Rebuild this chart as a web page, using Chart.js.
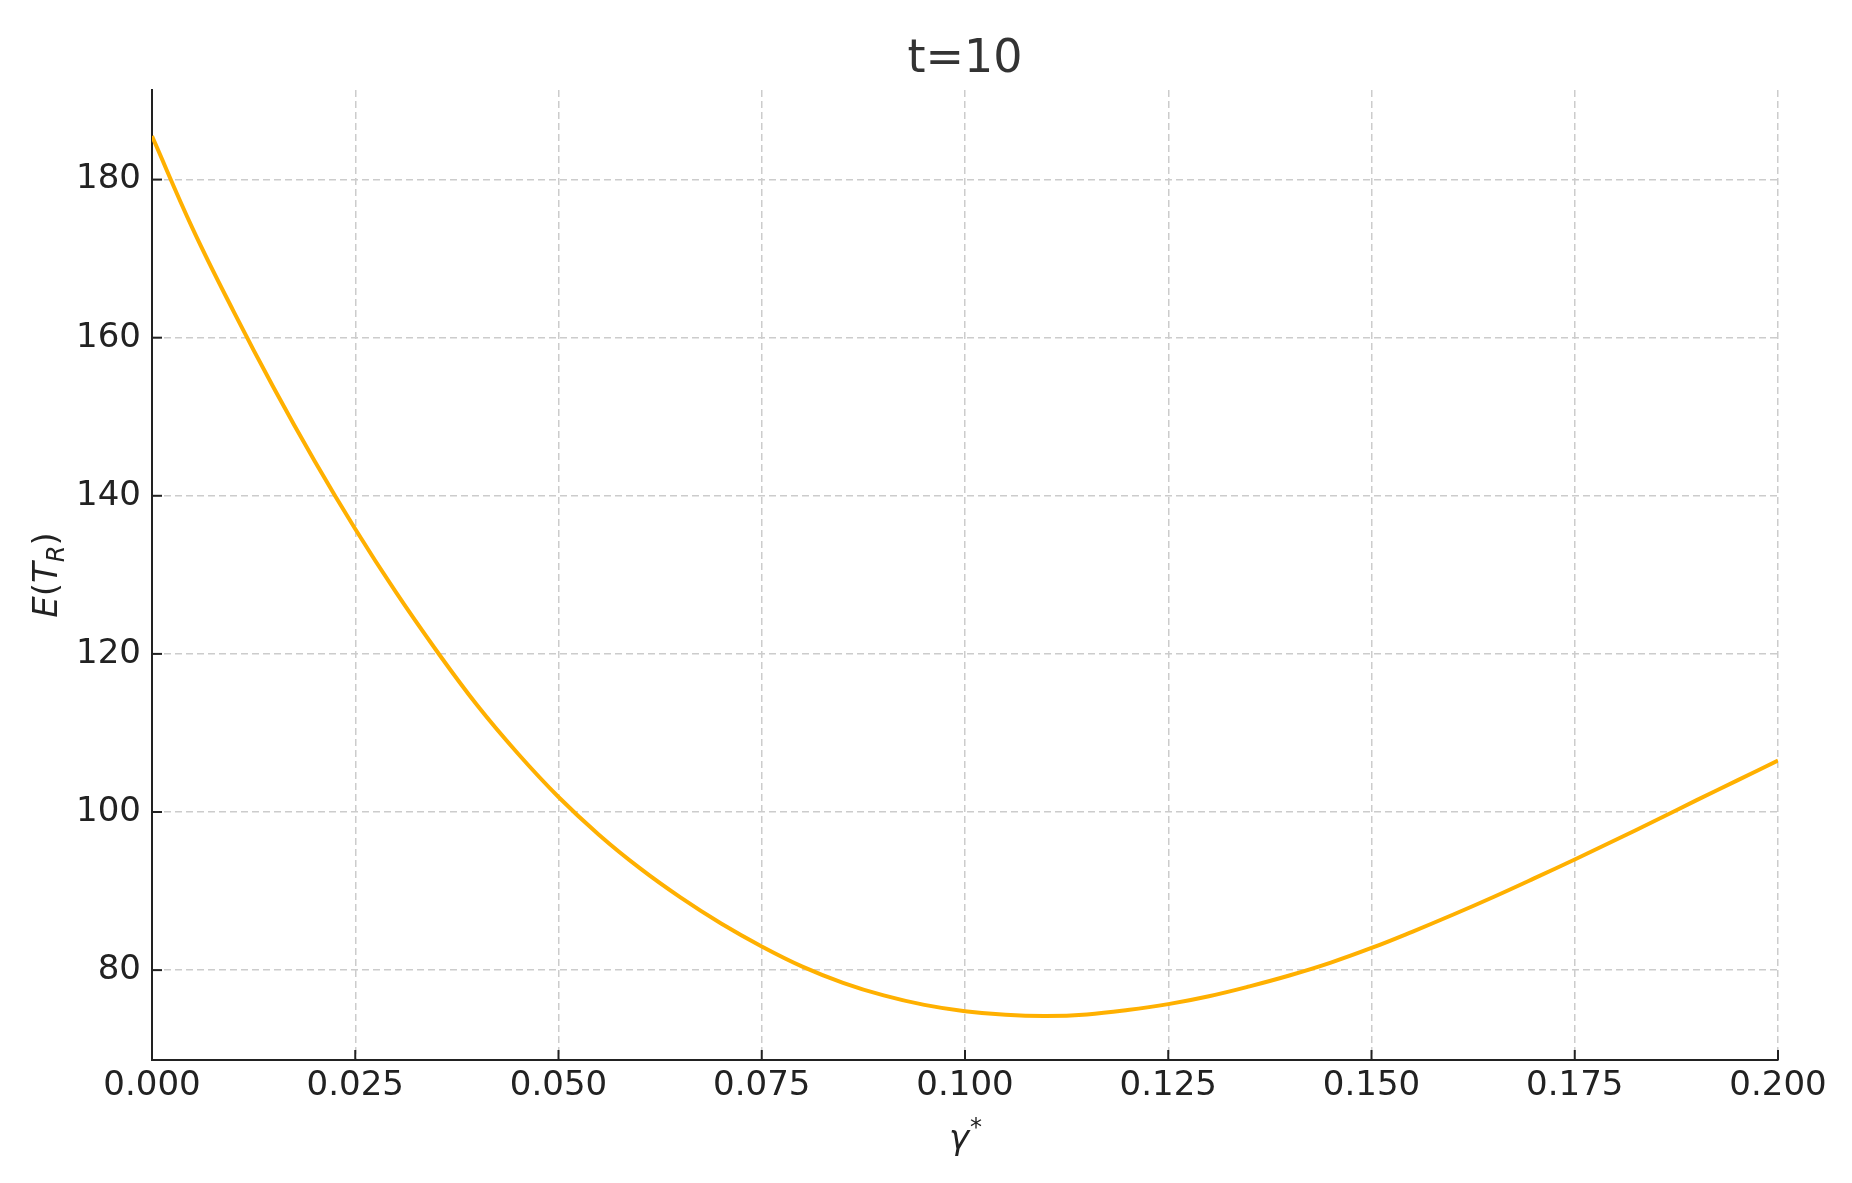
<!DOCTYPE html>
<html lang="en">
  <head>
    <meta charset="UTF-8" />
    <title>t=10</title>
    <script src="https://cdn.jsdelivr.net/npm/chart.js"></script>
    <style>
      body { margin: 0; background: #fff; }
      #grafico { display: block; }
    </style>
  </head>
  <body>
    <canvas id="grafico" width="1852" height="1183"></canvas>

    <script>
      // valores
      const gammaValues = [
        0.000, 0.005, 0.010, 0.015, 0.020, 0.025, 0.030, 0.035, 0.040, 0.045,
        0.050, 0.055, 0.060, 0.065, 0.070, 0.075, 0.080, 0.085, 0.090, 0.095,
        0.100, 0.105, 0.110, 0.115, 0.120, 0.125, 0.130, 0.135, 0.140, 0.145,
        0.150, 0.155, 0.160, 0.165, 0.170, 0.175, 0.180, 0.185, 0.190, 0.195,
        0.200
      ]
      const expectedTime = [
        185.5, 173.8, 163.4, 153.6, 144.4, 135.8, 127.8, 120.4, 113.5, 107.4,
        101.9, 97.1, 92.9, 89.2, 85.9, 83.0, 80.45, 78.4, 76.8, 75.6,
        74.8, 74.35, 74.2, 74.4, 74.95, 75.7, 76.7, 77.95, 79.35, 80.95,
        82.8, 84.85, 87.0, 89.25, 91.6, 94.0, 96.45, 98.95, 101.5, 104.0,
        106.5
      ]
      const xTicks = [0, 0.025, 0.05, 0.075, 0.1, 0.125, 0.15, 0.175, 0.2]
      const yTicks = [80, 100, 120, 140, 160, 180]
      const titulo = "t=10"

      const fonte = "'DejaVu Sans', sans-serif"

      let pontos = []
      for (let i = 0; i < gammaValues.length; i++) {
        pontos.push({ x: gammaValues[i], y: expectedTime[i] })
      }

      // ticks para dentro, título centrado no gráfico e rótulos dos eixos
      const decoracao = {
        id: "decoracao",
        afterDraw(chart) {
          const ctx = chart.ctx
          const xs = chart.scales.x
          const ys = chart.scales.y
          const area = chart.chartArea
          const meio = (area.left + area.right) / 2
          ctx.save()
          ctx.strokeStyle = "#222"
          ctx.lineWidth = 2
          xs.ticks.forEach(function (t) {
            const px = xs.getPixelForValue(t.value)
            ctx.beginPath()
            ctx.moveTo(px, area.bottom)
            ctx.lineTo(px, area.bottom - 10)
            ctx.stroke()
          })
          ys.ticks.forEach(function (t) {
            const py = ys.getPixelForValue(t.value)
            ctx.beginPath()
            ctx.moveTo(area.left, py)
            ctx.lineTo(area.left + 10, py)
            ctx.stroke()
          })

          // título
          ctx.fillStyle = "#333"
          ctx.font = "46px " + fonte
          ctx.textAlign = "center"
          ctx.textBaseline = "alphabetic"
          ctx.fillText(titulo, meio, 72)

          ctx.fillStyle = "#222"
          ctx.textAlign = "left"

          // E(T_R) vertical
          const partes = [
            { t: "E", f: "italic 34px " + fonte, dy: 0 },
            { t: "(", f: "34px " + fonte, dy: 0 },
            { t: "T", f: "italic 34px " + fonte, dy: 0 },
            { t: "R", f: "italic 24px " + fonte, dy: 7 },
            { t: ")", f: "34px " + fonte, dy: 0 },
          ]
          let total = 0
          partes.forEach(function (p) {
            ctx.font = p.f
            p.w = ctx.measureText(p.t).width
            total += p.w
          })
          ctx.save()
          ctx.translate(45, (area.top + area.bottom) / 2)
          ctx.rotate(-Math.PI / 2)
          let cx = -total / 2
          partes.forEach(function (p) {
            ctx.font = p.f
            ctx.fillText(p.t, cx, 12.4 + p.dy)
            cx += p.w
          })
          ctx.restore()

          // gamma*
          ctx.font = "italic 34px " + fonte
          const wg = ctx.measureText("γ").width
          ctx.font = "24px " + fonte
          const ws = ctx.measureText("*").width
          const gx = meio - (wg + ws) / 2
          ctx.font = "italic 34px " + fonte
          ctx.fillText("γ", gx, 1149)
          ctx.font = "24px " + fonte
          ctx.fillText("*", gx + wg + 1, 1135)
          ctx.restore()
        },
      }

      const ctx = document.getElementById("grafico").getContext("2d")

      new Chart(ctx, {
        type: "line",
        data: {
          datasets: [
            {
              data: pontos,
              borderColor: "#ffb000",
              borderWidth: 4,
              pointRadius: 0,
              fill: false,
              tension: 0.4,
            },
          ],
        },
        options: {
          responsive: false,
          animation: false,
          devicePixelRatio: 1,
          layout: { padding: { left: 0, right: 74, top: 90, bottom: 0 } },
          plugins: {
            legend: { display: false },
            tooltip: { enabled: false },
            title: { display: false },
          },
          scales: {
            x: {
              type: "linear",
              min: 0,
              max: 0.2,
              afterBuildTicks: function (axis) {
                axis.ticks = xTicks.map(function (v) { return { value: v } })
              },
              afterFit: function (axis) { axis.height = 123 },
              ticks: {
                color: "#222",
                font: { family: fonte, size: 34 },
                padding: 6,
                maxRotation: 0,
                autoSkip: false,
                callback: function (v) { return Number(v).toFixed(3) },
              },
              grid: { color: "#cccccc", lineWidth: 1.5, drawTicks: false },
              border: { display: true, color: "#222", width: 2, dash: [7, 4] },
            },
            y: {
              min: 68.63,
              max: 191.33,
              afterBuildTicks: function (axis) {
                axis.ticks = yTicks.map(function (v) { return { value: v } })
              },
              afterFit: function (axis) { axis.width = 152 },
              ticks: {
                color: "#222",
                font: { family: fonte, size: 34 },
                padding: 11,
                autoSkip: false,
              },
              grid: { color: "#cccccc", lineWidth: 1.5, drawTicks: false },
              border: { display: true, color: "#222", width: 2, dash: [7, 4] },
            },
          },
        },
        plugins: [decoracao],
      })
    </script>
  </body>
</html>
